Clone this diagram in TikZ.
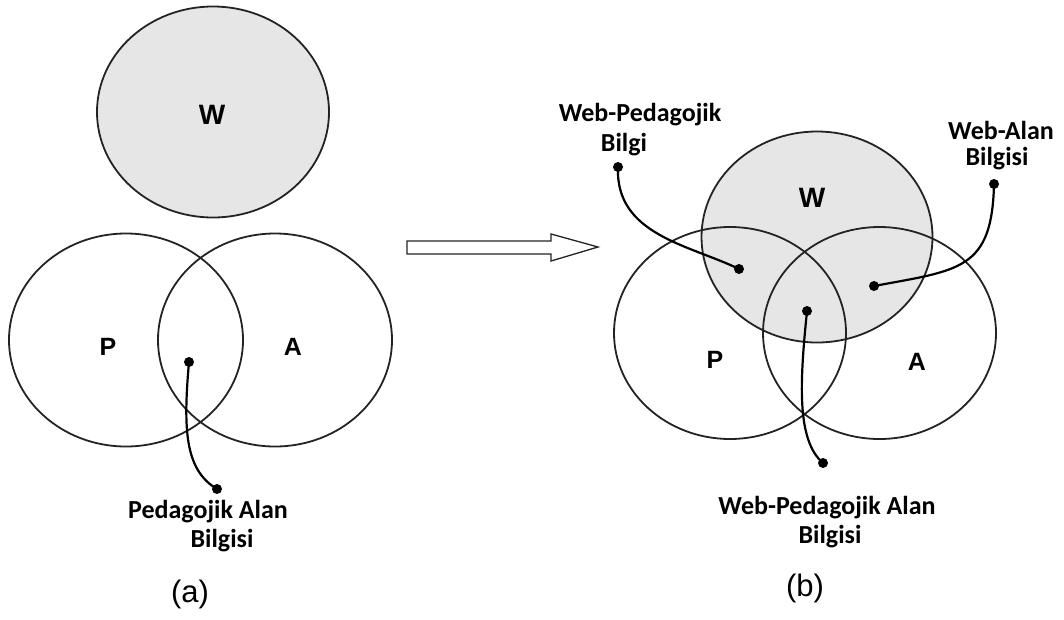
\documentclass[tikz,border=0pt]{standalone}
\usepackage{fontspec}
\setmainfont{Carlito}
\newfontfamily\arialfont{Liberation Sans}
\definecolor{wfill}{RGB}{230,230,230}
\definecolor{rim}{RGB}{35,35,35}
\begin{document}
\begin{tikzpicture}[x=1pt,y=-1pt,
  setrim/.style={draw=rim,line width=1.8pt},
  letter/.style={font=\arialfont\bfseries\fontsize{25}{29}\selectfont,inner sep=0pt},
  bigletter/.style={font=\arialfont\bfseries\fontsize{28}{32}\selectfont,inner sep=0pt},
  caption/.style={font=\bfseries\fontsize{26}{30}\selectfont,inner sep=0pt},
  panel/.style={font=\arialfont\fontsize{31}{35}\selectfont,inner sep=0pt},
  pin/.style={circle,fill=black,inner sep=0pt,minimum size=10pt},
  lead/.style={line width=2.2pt,black}]
\useasboundingbox (0,0) rectangle (1064,619);

% ---------- panel (a): separate W, overlapping P and A ----------
\draw[setrim,fill=wfill] (213,112) ellipse [x radius=116, y radius=105.5];
\draw[setrim] (126,340) ellipse [x radius=117, y radius=106.5];
\draw[setrim] (275,340) ellipse [x radius=117, y radius=106.5];

\node[bigletter] (wa) at (212,115) {W};
\node[letter] (pa) at (108,347) {P};
\node[letter] (aa) at (293,347) {A};

\node[pin] (pakin) at (189,362) {};
\node[pin] (pakout) at (217,489) {};
\draw[lead] (pakin.center) .. controls (183,430) and (185,470) .. (pakout.center);

\node[caption] (paktext1) at (208,512) {Pedagojik Alan};
\node[caption] (paktext2) at (222,541) {Bilgisi};
\node[panel] (labela) at (190,594) {(a)};

% ---------- block arrow between the panels ----------
\draw[line width=1.3pt,draw=rim,fill=white]
  (407,241) -- (551,241) -- (551,234) -- (598,247) -- (551,261) -- (551,254) -- (407,254) -- cycle;

% ---------- panel (b): W overlapping P and A ----------
\fill[wfill] (817,237) ellipse [x radius=115.5, y radius=105.5];
\draw[setrim] (817,237) ellipse [x radius=115.5, y radius=105.5];
\draw[setrim] (730,333) ellipse [x radius=116, y radius=106];
\draw[setrim] (879.5,333) ellipse [x radius=116.5, y radius=106];

\node[bigletter] (wb) at (812,198) {W};
\node[letter] (pb) at (715,360) {P};
\node[letter] (ab) at (917,362) {A};

% Web-Pedagojik Bilgi
\node[pin] (wpout) at (618,167) {};
\node[pin] (wpin) at (739,269) {};
\draw[lead] (wpout.center) .. controls (615,235) and (690,245) .. (wpin.center);
\node[caption] (wptext1) at (640,115) {Web-Pedagojik};
\node[caption] (wptext2) at (624,145) {Bilgi};

% Web-Alan Bilgisi
\node[pin] (waout) at (994,184) {};
\node[pin] (wain) at (874,286) {};
\draw[lead] (waout.center) .. controls (992,270) and (960,270) .. (wain.center);
\node[caption] (watext1) at (1001,130) {Web-Alan};
\node[caption] (watext2) at (997,159) {Bilgisi};

% Web-Pedagojik Alan Bilgisi
\node[pin] (wpain) at (807,311) {};
\node[pin] (wpaout) at (823,463) {};
\draw[lead] (wpain.center) .. controls (800,380) and (796,440) .. (wpaout.center);
\node[caption] (wpatext1) at (827,508) {Web-Pedagojik Alan};
\node[caption] (wpatext2) at (830,537) {Bilgisi};
\node[panel] (labelb) at (805,588) {(b)};
\end{tikzpicture}
\end{document}
